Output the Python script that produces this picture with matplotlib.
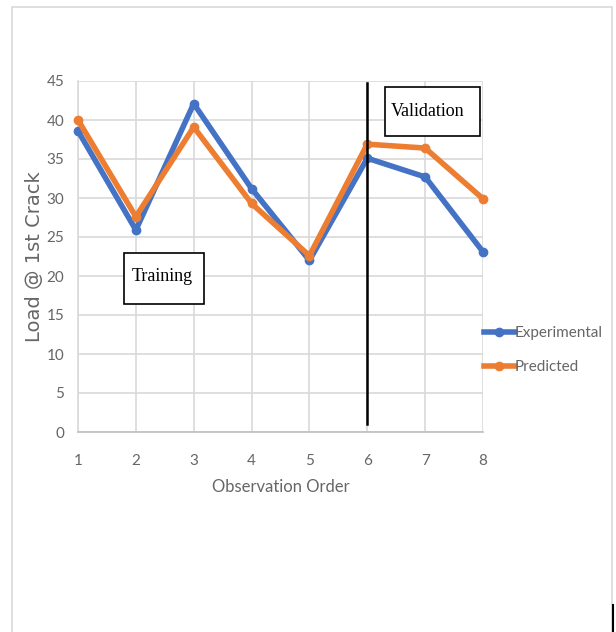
import matplotlib
matplotlib.use("Agg")
import matplotlib.pyplot as plt
from matplotlib.lines import Line2D
from matplotlib.patches import Rectangle

order = [1, 2, 3, 4, 5, 6, 7, 8]
experimental = [38.6, 25.9, 42.1, 31.2, 22.0, 35.1, 32.7, 23.1]
predicted = [40.0, 27.6, 39.1, 29.3, 22.6, 36.9, 36.4, 29.9]
y_ticks = [0, 5, 10, 15, 20, 25, 30, 35, 40, 45]
split_at = 6

blue = "#4472C4"
orange = "#ED7D31"
gray_text = "#666666"

plt.rcParams["font.family"] = ["Lato", "DejaVu Sans"]

fig = plt.figure(figsize=(6.16, 6.32), dpi=100)
ax = fig.add_axes([78 / 616, 1 - 432 / 632, 405 / 616, 351 / 632])

# outer light frame
fig.patches.append(Rectangle((12 / 616, -0.01), 600 / 616, 1 - 7 / 632 + 0.01,
                             transform=fig.transFigure, fill=False,
                             edgecolor="#d9d9d9", linewidth=1.2))
fig.add_artist(Line2D([613 / 616, 613 / 616], [0, 27 / 632], transform=fig.transFigure,
                      color="black", linewidth=1.5))

ax.plot(order, experimental, color=blue, linewidth=4, marker="o", markersize=6,
        label="Experimental", solid_joinstyle="round", zorder=3, clip_on=False)
ax.plot(order, predicted, color=orange, linewidth=4, marker="o", markersize=6,
        label="Predicted", solid_joinstyle="round", zorder=4, clip_on=False)

ax.plot([split_at, split_at], [1, 44.7], color="black", linewidth=1.8, zorder=5)

ax.set_xlim(1, 8)
ax.set_ylim(0, 45)
ax.set_xticks(order)
ax.set_yticks(y_ticks)
ax.grid(True, color="#d9d9d9", linewidth=1.2)
ax.set_axisbelow(True)
for s in ["top", "right"]:
    ax.spines[s].set_visible(False)
ax.spines["left"].set_color("#d9d9d9")
ax.spines["bottom"].set_color("#bfbfbf")
ax.spines["left"].set_linewidth(1.2)
ax.spines["bottom"].set_linewidth(1.2)
ax.tick_params(axis="y", length=0, labelsize=11, labelcolor=gray_text, pad=10)
ax.tick_params(axis="x", length=0, labelsize=11, labelcolor=gray_text, pad=16)

ax.set_xlabel("Observation Order", fontsize=12, color=gray_text, labelpad=8)
ax.set_ylabel("Load @ 1st Crack", fontsize=14, color=gray_text, labelpad=2,
              family="DejaVu Sans")

# annotation boxes
ax.add_patch(Rectangle((1.795, 16.4), 1.383, 6.55, facecolor="white",
                       edgecolor="black", linewidth=1.2, zorder=6))
ax.text(2.45, 19.9, "Training", fontsize=13, fontfamily="Liberation Serif",
        ha="center", va="center", zorder=7)
ax.add_patch(Rectangle((6.306, 37.9), 1.642, 6.3, facecolor="white",
                       edgecolor="black", linewidth=1.2, zorder=6))
ax.text(7.05, 41.1, "Validation", fontsize=13, fontfamily="Liberation Serif",
        ha="center", va="center", zorder=7)

leg = ax.legend(loc="center left", bbox_to_anchor=(484 / 616, 1 - 350 / 632),
                bbox_transform=fig.transFigure, frameon=False, fontsize=11,
                handlelength=2.0, handletextpad=0.0, labelspacing=1.3,
                borderaxespad=0, borderpad=0)
for t in leg.get_texts():
    t.set_color(gray_text)

fig.savefig("out.png", dpi=100, facecolor="white")
